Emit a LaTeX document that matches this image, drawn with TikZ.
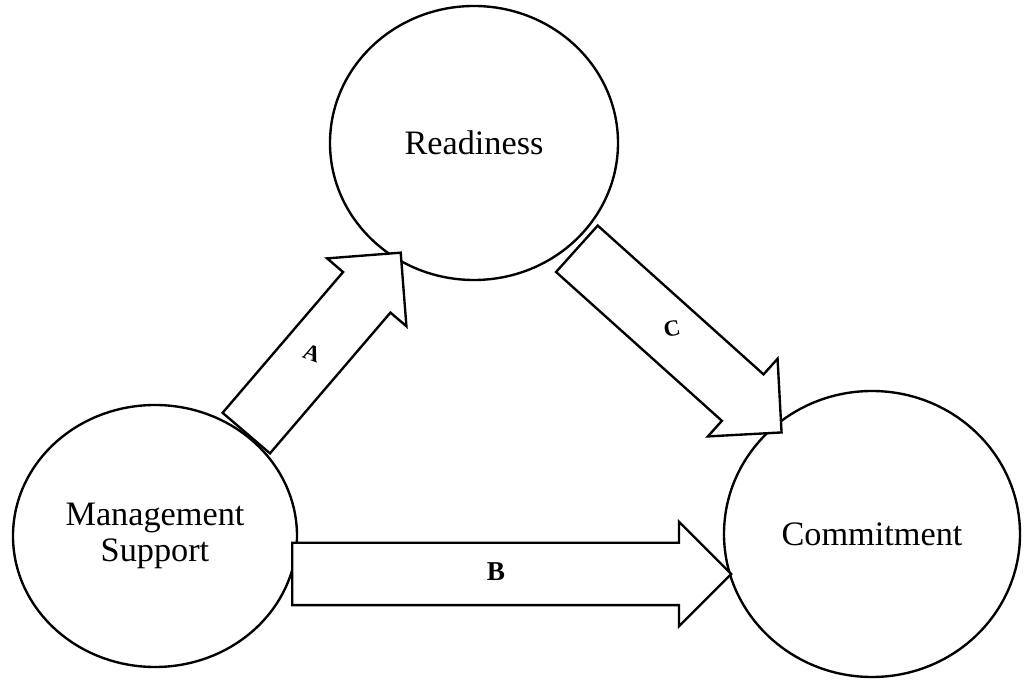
\documentclass[tikz,border=0pt]{standalone}
\usepackage{fontspec}
\setmainfont{Liberation Serif}
\usepackage{tikz}
\usetikzlibrary{shapes.geometric, shapes.arrows, positioning}

\tikzset{
  factor/.style={ellipse, draw, line width=1.35pt, inner sep=0pt, align=center,
                 font=\fontsize{19.5}{20.5}\selectfont},
  blockarrow/.style={single arrow, draw, fill=white, line width=1.35pt,
                     inner xsep=0pt, inner ysep=0.6cm,
                     single arrow head extend=0.42cm, single arrow tip angle=90},
  pathlabel/.style={font=\bfseries\fontsize{13}{13}\selectfont}
}

\begin{document}
\begin{tikzpicture}
  \useasboundingbox (0,0) rectangle (20.5,13.6);

  % Factors
  \node[factor, minimum width=5.76cm, minimum height=5.48cm] (ready) at (9.48,10.74) {Readiness};
  \node[factor, minimum width=5.68cm, minimum height=5.24cm] (support) at (3.10,2.88) {Management\\Support};
  \node[factor, minimum width=5.92cm, minimum height=5.72cm] (commit) at (17.44,2.92) {Commitment};

  % Ends of the block arrows
  \coordinate (aTail) at (4.91,4.92);
  \coordinate (aTip)  at (8.00,8.53);
  \coordinate (bTail) at (5.82,2.12);
  \coordinate (bTip)  at (14.60,2.12);
  \coordinate (cTail) at (11.52,8.64);
  \coordinate (cTip)  at (15.61,4.97);

  % Path A -- support to readiness
  \path (aTail) -- (aTip) node[blockarrow, pos=0, sloped, anchor=tail, minimum height=4.75cm] (arrowA) {};
  \node[pathlabel, rotate=-20] (labA) at (6.24,6.54) {A};

  % Path B -- support to commitment
  \path (bTail) -- (bTip) node[blockarrow, pos=0, sloped, anchor=tail, minimum height=8.78cm] (arrowB) {};
  \node[pathlabel, font=\bfseries\fontsize{15.5}{15.5}\selectfont] (labB) at (9.92,2.16) {B};

  % Path C -- readiness to commitment
  \path (cTail) -- (cTip) node[blockarrow, pos=0, sloped, anchor=tail, minimum height=5.50cm] (arrowC) {};
  \node[pathlabel, rotate=10] (labC) at (13.44,7.02) {C};
\end{tikzpicture}
\end{document}
